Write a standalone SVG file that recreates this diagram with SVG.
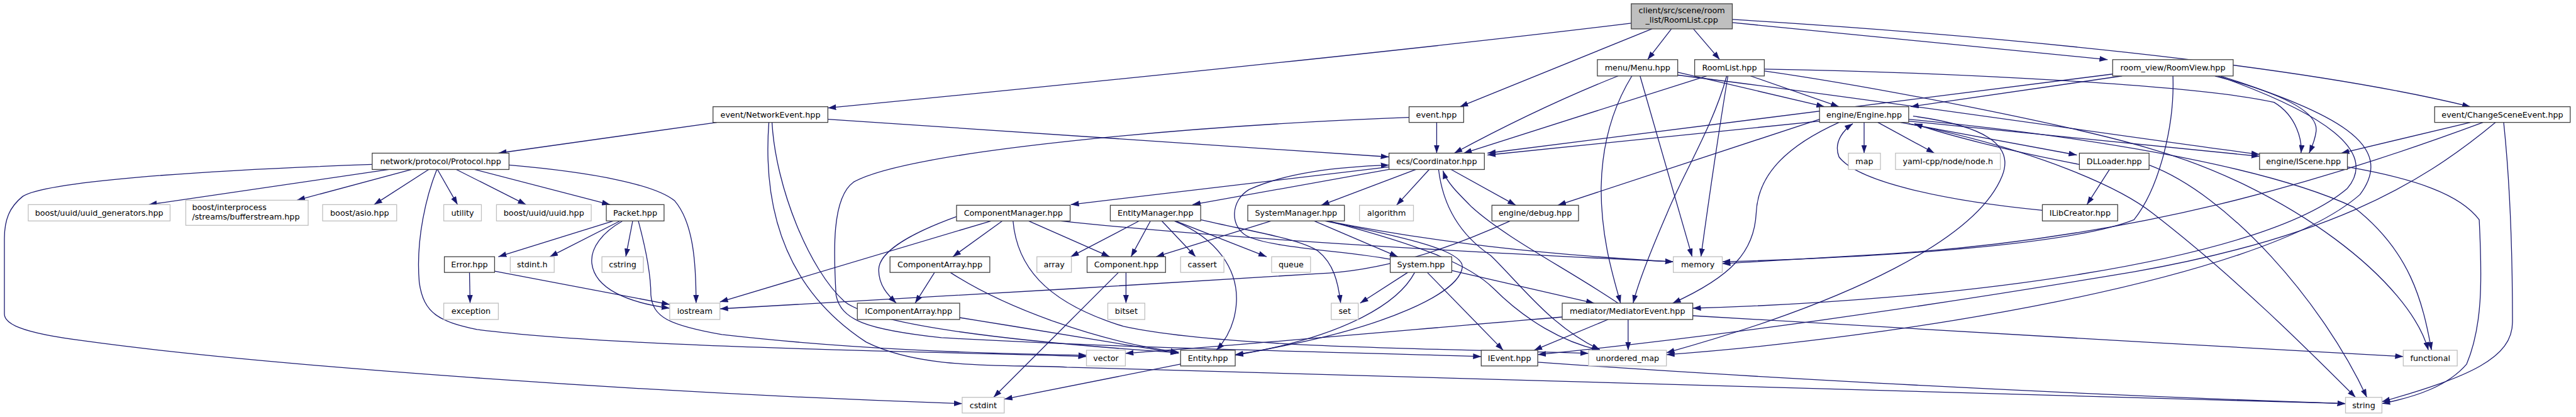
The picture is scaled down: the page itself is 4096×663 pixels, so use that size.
<svg xmlns="http://www.w3.org/2000/svg" width="4096" height="663" viewBox="0 0 4096 663">
<defs>
<marker id="a" markerUnits="userSpaceOnUse" markerWidth="13" markerHeight="9" refX="13" refY="4.5" orient="auto"><path d="M0,0 L13,4.5 L0,9 z" fill="#191970"/></marker>
<style>
.n rect{fill:#fff;stroke:#404040;stroke-width:1.3}
.s rect{fill:#fff;stroke:#bfbfbf;stroke-width:1.3}
.r rect{fill:#bfbfbf;stroke:#404040;stroke-width:1.3}
text{font-family:"DejaVu Sans","Liberation Sans",sans-serif;font-size:12.8px;fill:#000;text-anchor:middle}
#edges path{fill:none;stroke:#191970;stroke-width:1.3;marker-end:url(#a)}
</style>
</defs>
<rect width="4096" height="663" fill="#fff"/>
<g transform="scale(0.998)">
<g id="edges">
<path d="M2599,37 C2250,80 1650,140 1319,172"/>
<path d="M2632,46 L2326,170"/>
<path d="M2663,46 L2625,95"/>
<path d="M2698,46 L2740,95"/>
<path d="M2760,36 L3358,95"/>
<path d="M2760,31 C3150,55 3650,100 3936,170"/>
<path d="M1142,195 L794,244"/>
<path d="M1319,190 L2213,250"/>
<path d="M1230,195 C1236,300 1290,430 1345,480 C1400,525 1700,550 1878,562"/>
<path d="M1225,195 C1215,330 1250,460 1380,545 C1470,590 1600,580 1700,585 C2400,605 3100,625 3737,643"/>
<path d="M2289,195 L2289,244"/>
<path d="M2245,187 C1900,200 1450,240 1360,290 C1325,315 1328,400 1332,470 C1340,510 1380,525 1500,538 C1800,555 2100,560 2360,568"/>
<path d="M620,270 L237,326"/>
<path d="M656,270 L473,319"/>
<path d="M683,270 L596,326"/>
<path d="M697,270 L729,326"/>
<path d="M727,270 L838,326"/>
<path d="M756,270 L972,326"/>
<path d="M811,263 C950,275 1045,295 1075,320 C1105,355 1109,420 1109,483"/>
<path d="M593,262 C300,272 70,290 36,313 C15,330 7,350 7,380 L7,500 C7,515 30,530 134,543 C400,580 1000,625 1533,643"/>
<path d="M696,270 C680,310 662,380 668,450 C675,500 700,512 760,525 C1000,555 1500,560 1731,568"/>
<path d="M977,352 L794,409"/>
<path d="M988,352 L876,409"/>
<path d="M1008,352 L997,409"/>
<path d="M992,352 C960,370 940,395 943,420 C948,460 1000,482 1067,491"/>
<path d="M1017,352 C1030,400 1037,440 1037,470 C1040,505 1065,518 1150,533 C1350,556 1550,563 1731,566"/>
<path d="M748,434 L749,483"/>
<path d="M788,432 L1067,485"/>
<path d="M1579,352 L1147,481"/>
<path d="M1597,352 L1518,409"/>
<path d="M1524,345 C1455,370 1400,400 1400,430 C1400,455 1415,470 1428,483"/>
<path d="M1639,352 L1768,409"/>
<path d="M1614,352 C1620,420 1660,480 1790,520 C1950,555 2300,555 2531,563"/>
<path d="M1690,352 C1950,380 2300,400 2666,417"/>
<path d="M1815,352 L1706,409"/>
<path d="M1833,352 L1802,409"/>
<path d="M1851,352 L1905,409"/>
<path d="M1873,352 L2018,409"/>
<path d="M1871,352 C1940,380 1972,430 1970,480 C1968,520 1950,545 1938,558"/>
<path d="M1913,350 C1990,368 2070,380 2100,400 C2125,420 2132,450 2136,483"/>
<path d="M2025,352 L1842,409"/>
<path d="M2094,352 L2227,409"/>
<path d="M2114,352 C2280,385 2450,405 2666,417"/>
<path d="M2116,352 C2260,390 2340,420 2380,460 C2430,510 2490,545 2549,558"/>
<path d="M2111,352 C2250,380 2330,400 2330,425 C2325,470 2200,520 2050,550 C2010,558 1990,562 1968,565"/>
<path d="M2243,434 L2167,483"/>
<path d="M2254,434 C2230,480 2150,535 1968,566"/>
<path d="M2274,434 L2395,558"/>
<path d="M2313,431 L2540,483"/>
<path d="M2215,413 C2150,400 2020,395 1985,375 C1960,360 1960,320 1990,302 C2050,275 2130,266 2213,263"/>
<path d="M2406,352 C2300,400 2200,432 2100,436 C1800,455 1400,478 1147,492"/>
<path d="M2213,266 L1706,326"/>
<path d="M2213,270 L1900,326"/>
<path d="M2256,270 L2105,327"/>
<path d="M2277,270 L2225,327"/>
<path d="M2312,270 L2415,327"/>
<path d="M2292,270 C2298,320 2320,370 2375,407 C2420,450 2470,520 2549,557"/>
<path d="M2578,483 C2500,430 2400,380 2345,330 C2320,305 2305,290 2299,272"/>
<path d="M2489,505 C2250,525 2000,548 1793,563"/>
<path d="M2562,509 L2444,558"/>
<path d="M2594,509 L2594,558"/>
<path d="M2697,503 C3000,520 3450,548 3829,568"/>
<path d="M2450,577 C2700,595 3200,625 3737,643"/>
<path d="M1881,580 L1600,636"/>
<path d="M1782,434 L1583,633"/>
<path d="M1794,434 L1794,483"/>
<path d="M1489,434 L1458,483"/>
<path d="M1514,434 C1600,490 1750,545 1878,561"/>
<path d="M1529,506 C1650,525 1780,548 1878,563"/>
<path d="M2578,121 C2480,160 2380,210 2317,244"/>
<path d="M2673,115 L2907,170"/>
<path d="M2667,119 C3000,160 3400,220 3600,246"/>
<path d="M2613,121 L2696,409"/>
<path d="M2600,121 C2570,170 2552,230 2551,300 C2551,380 2570,440 2582,483"/>
<path d="M2719,121 L2332,244"/>
<path d="M2789,121 L2930,170"/>
<path d="M2811,110 C3100,115 3500,135 3623,163 C3660,185 3668,225 3666,244"/>
<path d="M2753,121 C2740,200 2725,300 2710,409"/>
<path d="M2751,121 C2730,200 2680,280 2656,340 C2630,400 2610,450 2602,483"/>
<path d="M2811,113 C3000,140 3300,200 3420,235 C3650,300 3840,450 3869,558"/>
<path d="M3366,118 L2370,244"/>
<path d="M3381,121 L3044,170"/>
<path d="M3529,121 C3640,150 3695,180 3690,210 C3688,225 3683,235 3679,244"/>
<path d="M3462,121 C3465,200 3440,300 3400,350 C3300,390 3000,410 2744,417"/>
<path d="M3534,121 C3700,180 3790,240 3740,300 C3600,420 3100,480 2697,491"/>
<path d="M3538,121 C3720,180 3820,230 3760,310 C3600,450 3000,540 2655,565"/>
<path d="M3936,195 L3730,244"/>
<path d="M3956,195 C3700,290 3400,380 3000,405 L2744,420"/>
<path d="M3976,195 C3850,300 3700,380 3400,433 C3000,500 2700,540 2450,565"/>
<path d="M3989,195 C4000,300 4003,400 4003,513 C4003,570 3936,600 3795,640"/>
<path d="M3740,266 C3850,285 3920,310 3950,350 C3955,450 3955,520 3930,580 C3900,615 3850,632 3795,643"/>
<path d="M2899,193 L2370,247"/>
<path d="M2970,195 L2970,244"/>
<path d="M2992,195 L3082,244"/>
<path d="M3028,195 L3309,247"/>
<path d="M3313,262 C3200,240 3100,215 3050,197"/>
<path d="M3041,193 L3600,249"/>
<path d="M3048,185 C3160,200 3210,230 3190,280 C3150,380 2950,480 2655,562"/>
<path d="M3041,197 C3250,240 3380,300 3430,340 C3560,440 3680,560 3753,633"/>
<path d="M2930,195 C2830,240 2800,290 2798,340 C2795,400 2760,440 2665,483"/>
<path d="M2899,190 L2482,327"/>
<path d="M3041,190 C3300,215 3600,260 3750,330 C3840,400 3860,480 3874,558"/>
<path d="M3254,335 C3100,320 2960,290 2930,250 C2920,225 2940,205 2952,197"/>
<path d="M3361,270 L3325,326"/>
<path d="M3424,263 C3550,310 3700,480 3771,633"/>
</g>
<g id="root" class="r"><rect x="2599" y="6" width="161" height="40"/><text x="2679.5" y="21.5">client/src/scene/room</text><text x="2679.5" y="36.5">_list/RoomList.cpp</text></g>
<g id="NetworkEvent" class="n"><rect x="1136" y="170" width="183" height="25"/><text x="1227.5" y="187.5">event/NetworkEvent.hpp</text></g>
<g id="event" class="n"><rect x="2245" y="170" width="87" height="25"/><text x="2288.5" y="187.5">event.hpp</text></g>
<g id="Menu" class="n"><rect x="2545" y="95" width="128" height="26"/><text x="2609" y="112.5">menu/Menu.hpp</text></g>
<g id="RoomListHpp" class="n"><rect x="2700" y="95" width="111" height="26"/><text x="2755.5" y="112.5">RoomList.hpp</text></g>
<g id="RoomView" class="n"><rect x="3366" y="95" width="192" height="26"/><text x="3462" y="112.5">room_view/RoomView.hpp</text></g>
<g id="ChangeSceneEvent" class="n"><rect x="3879" y="170" width="216" height="25"/><text x="3987" y="187.5">event/ChangeSceneEvent.hpp</text></g>
<g id="Engine" class="n"><rect x="2899" y="170" width="142" height="25"/><text x="2970" y="187.5">engine/Engine.hpp</text></g>
<g id="Coordinator" class="n"><rect x="2213" y="244" width="152" height="26"/><text x="2289" y="261.5">ecs/Coordinator.hpp</text></g>
<g id="Protocol" class="n"><rect x="593" y="244" width="218" height="26"/><text x="702" y="261.5">network/protocol/Protocol.hpp</text></g>
<g id="map" class="s"><rect x="2945" y="244" width="51" height="26"/><text x="2970.5" y="261.5">map</text></g>
<g id="yaml" class="s"><rect x="3020" y="244" width="167" height="26"/><text x="3103.5" y="261.5">yaml-cpp/node/node.h</text></g>
<g id="DLLoader" class="n"><rect x="3313" y="244" width="111" height="26"/><text x="3368.5" y="261.5">DLLoader.hpp</text></g>
<g id="IScene" class="n"><rect x="3600" y="244" width="140" height="26"/><text x="3670" y="261.5">engine/IScene.hpp</text></g>
<g id="uuid_generators" class="s"><rect x="45" y="326" width="226" height="26"/><text x="158" y="343.5">boost/uuid/uuid_generators.hpp</text></g>
<g id="bufferstream" class="s"><rect x="296" y="319" width="195" height="40"/><text x="306" y="334.5" style="text-anchor:start">boost/interprocess</text><text x="306" y="349.5" style="text-anchor:start">/streams/bufferstream.hpp</text></g>
<g id="asio" class="s"><rect x="514" y="326" width="118" height="26"/><text x="573" y="343.5">boost/asio.hpp</text></g>
<g id="utility" class="s"><rect x="707" y="326" width="60" height="26"/><text x="737" y="343.5">utility</text></g>
<g id="uuid" class="s"><rect x="791" y="326" width="151" height="26"/><text x="866.5" y="343.5">boost/uuid/uuid.hpp</text></g>
<g id="Packet" class="n"><rect x="966" y="326" width="92" height="26"/><text x="1012" y="343.5">Packet.hpp</text></g>
<g id="ComponentManager" class="n"><rect x="1524" y="327" width="181" height="25"/><text x="1614.5" y="344">ComponentManager.hpp</text></g>
<g id="EntityManager" class="n"><rect x="1769" y="327" width="144" height="25"/><text x="1841" y="344">EntityManager.hpp</text></g>
<g id="SystemManager" class="n"><rect x="1988" y="327" width="154" height="25"/><text x="2065" y="344">SystemManager.hpp</text></g>
<g id="algorithm" class="s"><rect x="2166" y="327" width="86" height="25"/><text x="2209" y="344">algorithm</text></g>
<g id="debug" class="n"><rect x="2377" y="327" width="138" height="25"/><text x="2446" y="344">engine/debug.hpp</text></g>
<g id="ILibCreator" class="n"><rect x="3254" y="326" width="120" height="26"/><text x="3314" y="343.5">ILibCreator.hpp</text></g>
<g id="Error" class="n"><rect x="708" y="409" width="80" height="25"/><text x="748" y="426">Error.hpp</text></g>
<g id="stdint" class="s"><rect x="813" y="409" width="70" height="25"/><text x="848" y="426">stdint.h</text></g>
<g id="cstring" class="s"><rect x="959" y="409" width="66" height="25"/><text x="992" y="426">cstring</text></g>
<g id="ComponentArray" class="n"><rect x="1418" y="409" width="159" height="25"/><text x="1497.5" y="426">ComponentArray.hpp</text></g>
<g id="array" class="s"><rect x="1652" y="409" width="55" height="25"/><text x="1679.5" y="426">array</text></g>
<g id="Component" class="n"><rect x="1732" y="409" width="125" height="25"/><text x="1794.5" y="426">Component.hpp</text></g>
<g id="cassert" class="s"><rect x="1881" y="409" width="69" height="25"/><text x="1915.5" y="426">cassert</text></g>
<g id="queue" class="s"><rect x="2026" y="409" width="62" height="25"/><text x="2057" y="426">queue</text></g>
<g id="System" class="n"><rect x="2215" y="409" width="98" height="25"/><text x="2264" y="426">System.hpp</text></g>
<g id="memory" class="s"><rect x="2666" y="409" width="78" height="25"/><text x="2705" y="426">memory</text></g>
<g id="exception" class="s"><rect x="707" y="483" width="87" height="26"/><text x="750.5" y="500.5">exception</text></g>
<g id="iostream" class="s"><rect x="1067" y="483" width="80" height="26"/><text x="1107" y="500.5">iostream</text></g>
<g id="IComponentArray" class="n"><rect x="1366" y="483" width="163" height="26"/><text x="1447.5" y="500.5">IComponentArray.hpp</text></g>
<g id="bitset" class="s"><rect x="1765" y="483" width="59" height="26"/><text x="1794.5" y="500.5">bitset</text></g>
<g id="set" class="s"><rect x="2121" y="483" width="43" height="26"/><text x="2142.5" y="500.5">set</text></g>
<g id="MediatorEvent" class="n"><rect x="2489" y="483" width="208" height="26"/><text x="2593" y="500.5">mediator/MediatorEvent.hpp</text></g>
<g id="vector" class="s"><rect x="1731" y="558" width="62" height="25"/><text x="1762" y="575">vector</text></g>
<g id="Entity" class="n"><rect x="1881" y="558" width="87" height="25"/><text x="1924.5" y="575">Entity.hpp</text></g>
<g id="IEvent" class="n"><rect x="2360" y="558" width="90" height="25"/><text x="2405" y="575">IEvent.hpp</text></g>
<g id="unordered_map" class="s"><rect x="2531" y="558" width="124" height="25"/><text x="2593" y="575">unordered_map</text></g>
<g id="functional" class="s"><rect x="3829" y="558" width="86" height="25"/><text x="3872" y="575">functional</text></g>
<g id="cstdint" class="s"><rect x="1533" y="633" width="67" height="25"/><text x="1566.5" y="650">cstdint</text></g>
<g id="string" class="s"><rect x="3737" y="633" width="58" height="25"/><text x="3766" y="650">string</text></g>
</g>
</svg>
